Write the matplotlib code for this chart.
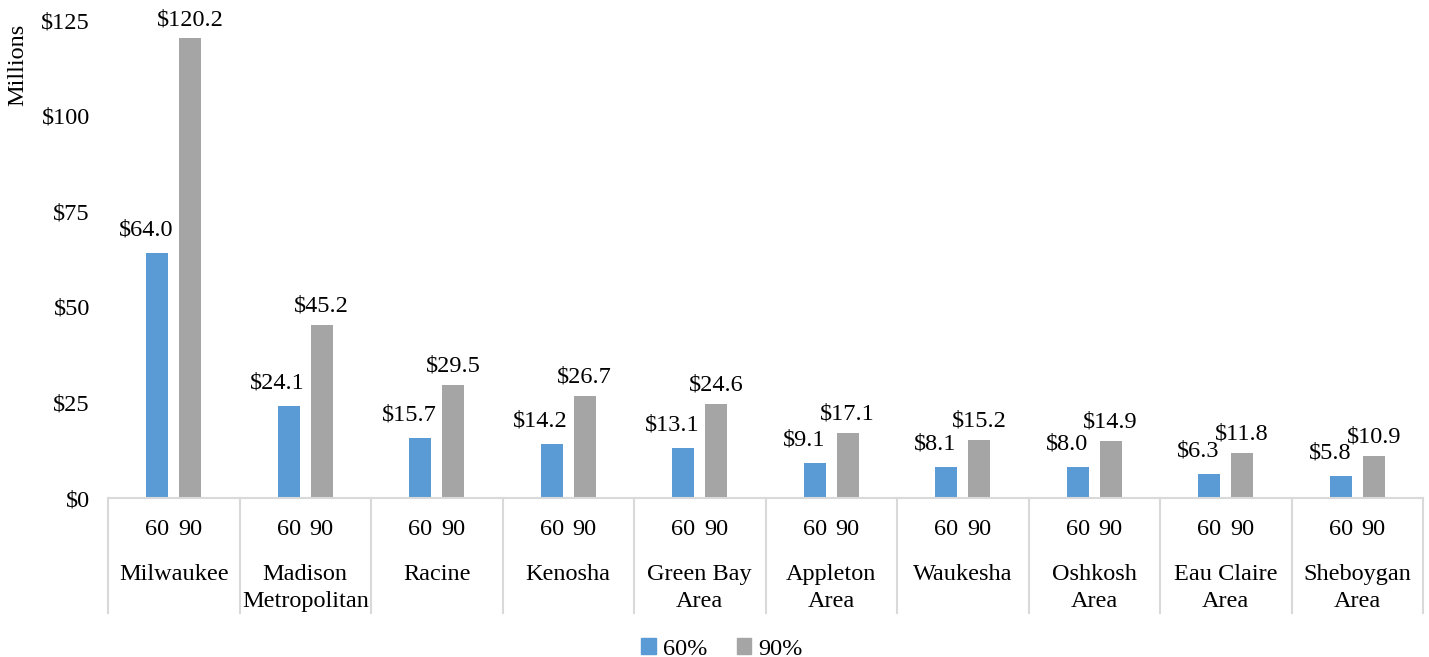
import matplotlib.pyplot as plt
import matplotlib.patches as mpatches
import matplotlib.transforms as mtransforms
import numpy as np

# Chart data
categories = ["Milwaukee", "Madison\nMetropolitan", "Racine", "Kenosha", "Green Bay\nArea",
              "Appleton\nArea", "Waukesha", "Oshkosh\nArea", "Eau Claire\nArea", "Sheboygan\nArea"]
values_60 = [64.0, 24.1, 15.7, 14.2, 13.1, 9.1, 8.1, 8.0, 6.3, 5.8]
values_90 = [120.2, 45.2, 29.5, 26.7, 24.6, 17.1, 15.2, 14.9, 11.8, 10.9]
sub_labels = ["60", "90"]
series_names = ["60%", "90%"]
y_ticks = [0, 25, 50, 75, 100, 125]

BLUE = "#5b9bd5"
GRAY = "#a5a5a5"
LINE = "#d9d9d9"

plt.rcParams['font.family'] = ['Liberation Serif', 'DejaVu Serif']
plt.rcParams['font.size'] = 17.5

fig = plt.figure(figsize=(14.29, 6.57), dpi=100)
W, H = 1429, 657
ax = fig.add_axes([108 / W, (H - 498) / H, (1423 - 108) / W, (498 - 20) / H])

x = np.arange(len(categories))
off = 0.125
width = 0.167

bars60 = ax.bar(x - off, values_60, width, color=BLUE)
bars90 = ax.bar(x + off, values_90, width, color=GRAY)

ax.set_xlim(-0.5, len(categories) - 0.5)
ax.set_ylim(0, 125)
ax.set_yticks(y_ticks)
ax.set_yticklabels([f"${v}" for v in y_ticks])
ax.tick_params(axis='y', length=0, pad=13)

# Sub labels under each bar
ticks = np.concatenate([x - off, x + off])
ax.set_xticks(ticks)
ax.set_xticklabels([sub_labels[0]] * len(x) + [sub_labels[1]] * len(x))
ax.tick_params(axis='x', length=0, pad=15)

for s in ['top', 'right', 'left']:
    ax.spines[s].set_visible(False)
ax.spines['bottom'].set_color(LINE)
ax.spines['bottom'].set_linewidth(1.5)

# Data labels
for b, v in zip(bars60, values_60):
    ax.annotate(f"${v:.1f}", (b.get_x() + b.get_width() / 2, v), xytext=(-8, 9),
                textcoords='offset points', ha='center', va='bottom')
for b, v in zip(bars90, values_90):
    ax.annotate(f"${v:.1f}", (b.get_x() + b.get_width() / 2, v), xytext=(0, 6),
                textcoords='offset points', ha='center', va='bottom')

# Category names and separators
trans = mtransforms.blended_transform_factory(ax.transData, ax.transAxes)
for i, name in enumerate(categories):
    ax.text(i, -0.138, name, transform=trans, ha='center', va='top', linespacing=1.4)
for b in np.arange(len(categories) + 1) - 0.5:
    ax.plot([b, b], [0, -0.24], transform=trans, color=LINE, lw=1.5, clip_on=False)

fig.text(18 / W, 1 - 65 / H, "Millions", rotation=90, ha='center', va='center')

handles = [mpatches.Patch(color=BLUE, label=series_names[0]),
           mpatches.Patch(color=GRAY, label=series_names[1])]
fig.legend(handles=handles, loc='center', bbox_to_anchor=(722 / W, 1 - 649 / H), ncol=2,
           frameon=False, handlelength=0.6, handleheight=0.6, handletextpad=0.3,
           columnspacing=1.2)

fig.savefig("out.png", dpi=100)
